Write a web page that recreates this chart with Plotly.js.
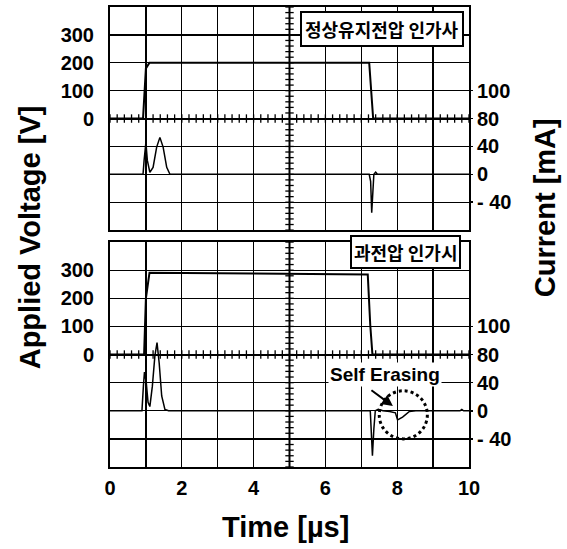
<!DOCTYPE html>
<html><head><meta charset="utf-8">
<script src="https://cdn.plot.ly/plotly-3.0.1.min.js"></script>
<style>html,body{margin:0;padding:0;background:#fff}#chart{width:567px;height:549px}</style>
</head><body><div id="chart"></div><script>
// ---- data: top panel (normal sustain voltage) ----
const tV_top = [0, 0.92, 1.0, 1.1, 7.22, 7.27, 7.33, 10];
const V_top  = [0, 0, 180, 200, 200, 100, 0, 0];
const tI_top = [0, 0.92, 0.95, 1.0, 1.04, 1.11, 1.2, 1.3, 1.39, 1.48, 1.58, 1.67, 7.22, 7.26, 7.29, 7.32, 7.35, 7.4, 7.45, 7.55, 10];
const I_top  = [0, 0, 20, 46, 20, 3, 10, 39, 53, 39, 10, 0, 0, -10, -55, -15, 0, 3, 0, 0, 0];
// ---- data: bottom panel (over voltage) ----
const tV_bot = [0, 0.95, 1.0, 1.1, 4, 7.18, 7.25, 7.31, 10];
const V_bot  = [0, 0, 200, 291, 288, 285, 104, 0, 0];
const tI_bot = [0, 0.89, 0.93, 0.96, 1.01, 1.06, 1.11, 1.18, 1.25, 1.31, 1.37, 1.44, 1.53, 1.63, 7.25, 7.28, 7.31, 7.35, 7.39, 7.47, 7.6, 7.79, 7.95, 8.01, 8.15, 8.34, 8.52, 9.75, 9.8, 9.85, 10];
const I_bot  = [0, 0, 35, 55, 40, 12, 6, 35, 78, 97, 68, 21, 2, 0, 0, -26, -64, -26, 0, 2, 0, -1, -3, -13, -9, -1, 0, 0, 2, 0, 0];
// ---- ticks ----
const xTickVals = [0,1,2,3,4,5,6,7,8,9,10];
const xTickText = ['0','','2','','4','','6','','8','','10'];
const vTickVals = [-300,-200,-100,0,100,200,300];
const vTickText = ['','','','0','100','200','300'];
const iTickVals = [-40,0,40,80,120];
const iTickText = ['- 40','0','40','80','100'];
const topLabel = '정상유지전압 인가사';
const botLabel = '과전압 인가시';

const FONT = 'Liberation Sans, Arial, sans-serif';
const KFONT = 'Noto Sans CJK KR, sans-serif';

// minor cross ticks along center axes
const hx = [], hy = [];
for (let i = 0; i <= 50; i++) { hx.push(i * 0.2); hy.push(0); }
const vx = [], vy = [];
for (let i = -20; i <= 20; i++) { vx.push(5); vy.push(i * 20); }

const line = (x, y, xa, ya, w) => ({x, y, xaxis: xa, yaxis: ya, mode: 'lines', line: {color: '#000', width: w}, hoverinfo: 'skip', showlegend: false});
const marks = (x, y, xa, ya, sym) => ({x, y, xaxis: xa, yaxis: ya, mode: 'markers', marker: {symbol: sym, size: 6, color: '#000', line: {color: '#000', width: 1.3}}, hoverinfo: 'skip', showlegend: false});

const data = [
  marks(hx, hy, 'x2', 'y', 'line-ns'),
  marks(vx, vy, 'x2', 'y', 'line-ew'),
  marks(hx, hy, 'x', 'y3', 'line-ns'),
  marks(vx, vy, 'x', 'y3', 'line-ew'),
  line(tV_top, V_top, 'x2', 'y', 2),
  line(tI_top, I_top, 'x2', 'y2', 1.5),
  line(tV_bot, V_bot, 'x', 'y3', 2),
  line(tI_bot, I_bot, 'x', 'y4', 1.5)
];

const xbase = {range: [0, 10], tickvals: xTickVals, showgrid: true, gridcolor: '#000', gridwidth: 1.3,
  showline: true, mirror: true, linecolor: '#000', linewidth: 2, zeroline: false, ticks: '', fixedrange: true};
const vbase = {range: [-400, 400], tickvals: vTickVals, ticktext: vTickText, showgrid: true, gridcolor: '#000', gridwidth: 1.3,
  showline: true, mirror: true, linecolor: '#000', linewidth: 2, zeroline: true, zerolinecolor: '#000', zerolinewidth: 2,
  ticks: '', ticklabelstandoff: 10, tickfont: {family: FONT, size: 20, weight: 'bold', color: '#000'}};
const ibase = {range: [-80, 240], tickvals: iTickVals, ticktext: iTickText, showgrid: false, zeroline: false, showline: false,
  side: 'right', ticks: 'outside', ticklen: 3, tickwidth: 1.5, tickcolor: '#000', ticklabelstandoff: 0,
  tickfont: {family: FONT, size: 20, weight: 'bold', color: '#000'}};

const boxFont = {family: KFONT, size: 18, weight: 'bold', color: '#000'};
const titleFont = {family: FONT, size: 29, weight: 'bold', color: '#000'};

const layout = {
  width: 567, height: 549,
  margin: {l: 110, r: 98, t: 7, b: 82},
  paper_bgcolor: '#fff', plot_bgcolor: '#fff',
  showlegend: false,
  xaxis: Object.assign({}, xbase, {anchor: 'y3', ticktext: xTickText, ticklabelstandoff: 2,
    tickfont: {family: FONT, size: 20, weight: 'bold', color: '#000'}}),
  xaxis2: Object.assign({}, xbase, {anchor: 'y', matches: 'x', showticklabels: false}),
  yaxis: Object.assign({}, vbase, {domain: [0.515, 1], anchor: 'x2'}),
  yaxis2: Object.assign({}, ibase, {overlaying: 'y', anchor: 'x2'}),
  yaxis3: Object.assign({}, vbase, {domain: [0, 0.489], anchor: 'x'}),
  yaxis4: Object.assign({}, ibase, {overlaying: 'y3', anchor: 'x'}),
  shapes: [
    {type: 'line', xref: 'x2', yref: 'y domain', x0: 5, x1: 5, y0: 0, y1: 1, line: {color: '#000', width: 2}},
    {type: 'line', xref: 'x', yref: 'y3 domain', x0: 5, x1: 5, y0: 0, y1: 1, line: {color: '#000', width: 2}},
    {type: 'circle', xref: 'x', yref: 'y4', x0: 7.5, x1: 8.84, y0: -40, y1: 28.4, line: {color: '#000', width: 3, dash: 'dot'}}
  ],
  annotations: [
    {text: topLabel, xref: 'paper', yref: 'paper', x: 0.759, y: 0.952, xanchor: 'center', yanchor: 'middle', showarrow: false,
     font: boxFont, bgcolor: '#fff', bordercolor: '#000', borderwidth: 2, borderpad: 3},
    {text: botLabel, xref: 'paper', yref: 'paper', x: 0.824, y: 0.467, xanchor: 'center', yanchor: 'middle', showarrow: false,
     font: boxFont, bgcolor: '#fff', bordercolor: '#000', borderwidth: 2, borderpad: 2},
    {text: 'Self Erasing', xref: 'x', yref: 'y4', x: 7.66, y: 52, xanchor: 'center', yanchor: 'middle', showarrow: false, bgcolor: '#fff',
     font: {family: FONT, size: 19, weight: 'bold', color: '#000'}},
    {text: '', xref: 'x', yref: 'y4', x: 7.88, y: 6.7, axref: 'x', ayref: 'y4', ax: 7.24, ay: 30.8,
     showarrow: true, arrowhead: 2, arrowsize: 1.1, arrowwidth: 2, arrowcolor: '#000'},
    {text: 'Applied Voltage [V]', xref: 'paper', yref: 'paper', x: -0.222, y: 0.5, textangle: -90, showarrow: false,
     xanchor: 'center', yanchor: 'middle', font: titleFont},
    {text: 'Current [mA]', xref: 'paper', yref: 'paper', x: 1.212, y: 0.563, textangle: -90, showarrow: false,
     xanchor: 'center', yanchor: 'middle', font: titleFont},
    {text: 'Time [\u00b5s]', xref: 'paper', yref: 'paper', x: 0.49, y: -0.13, showarrow: false,
     xanchor: 'center', yanchor: 'middle', font: titleFont}
  ]
};

Plotly.newPlot('chart', data, layout, {displayModeBar: false, staticPlot: true});
</script></body></html>
